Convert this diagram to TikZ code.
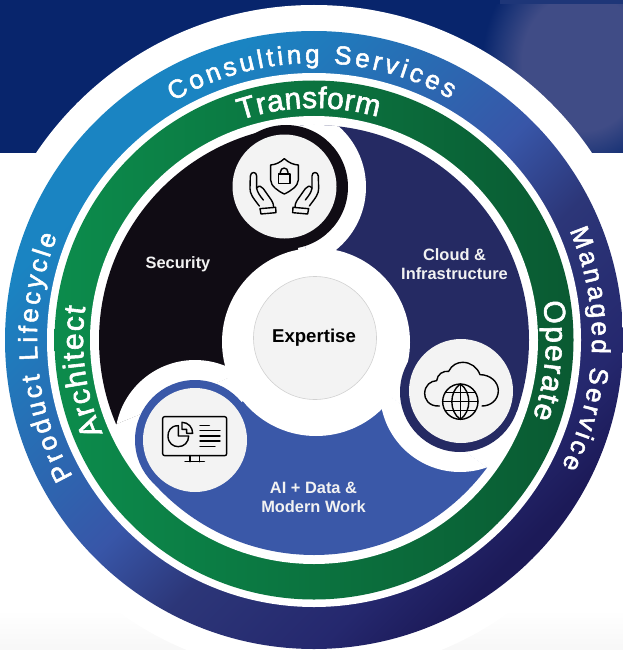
\documentclass[tikz,border=0pt]{standalone}
\usepackage{fontspec}
\setmainfont{Liberation Sans}
\newfontfamily\ringfont[FakeBold=2]{Liberation Sans}
\usetikzlibrary{decorations.text}
\definecolor{bandc}{HTML}{08256C}
\definecolor{patchL}{HTML}{404C86}
\definecolor{patchR}{HTML}{1E3678}
\definecolor{blA}{HTML}{1A84C2}
\definecolor{blAb}{HTML}{2A6AB2}
\definecolor{blB}{HTML}{3856A8}
\definecolor{blBb}{HTML}{2C3678}
\definecolor{blBc}{HTML}{25286E}
\definecolor{blC}{HTML}{1C1A58}
\definecolor{grA}{HTML}{0C8C4C}
\definecolor{grB}{HTML}{0A5A32}
\definecolor{secc}{HTML}{100C14}
\definecolor{navc}{HTML}{252A63}
\definecolor{aic}{HTML}{3A58A8}
\definecolor{greyc}{HTML}{F3F3F3}
\definecolor{labc}{HTML}{F2F2F2}
\pgfdeclareverticalshading{ringblue}{100bp}{color(0bp)=(blC); color(26bp)=(blC); color(32bp)=(blBc); color(42.7bp)=(blBb); color(50.3bp)=(blB); color(59bp)=(blAb); color(71bp)=(blA); color(100bp)=(blA)}
\pgfdeclareradialshading{patchglow}{\pgfpoint{0bp}{0bp}}{color(0bp)=(patchL); color(15bp)=(patchL); color(21bp)=(patchR); color(25bp)=(bandc); color(50bp)=(bandc)}
\tikzset{
  x=1pt,y=1pt,
  lab/.style={text=labc,font=\bfseries\fontsize{16.4}{19}\selectfont,align=center,inner sep=0pt},
  icon/.style={draw=black,line width=1.4pt,line cap=round,line join=round},
}
\newcommand{\ringtext}[5]{% size, radius, start, end, text
  \path[decorate,decoration={text along path,text align={fit to path},
    text={|\ringfont\fontsize{#1}{#1}\selectfont\color{white}|#5}}]
    (#3:#2pt) arc[start angle=#3,end angle=#4,radius=#2pt];}
\begin{document}
\begin{tikzpicture}
\useasboundingbox (0,0) rectangle (623,-650);
\fill[white] (0,0) rectangle (623,-650);
\shade[top color=white,bottom color=black!3] (0,-610) rectangle (623,-650);
% top band
\fill[bandc] (0,0) rectangle (623,-153);
\begin{scope}
\clip (0,-5) rectangle (623,-153);
\shade[shading=patchglow] (582,-62) ellipse[x radius=100pt,y radius=115pt];
\end{scope}
\fill[patchR] (500,0) rectangle (623,-4);
% rings
\fill[white] (314,-340) circle[radius=335pt];
\fill[white] (0,-153) rectangle (623,-610);
\shade[shading=ringblue,shading angle=45] (314,-340) circle[radius=309pt];
\fill[white] (314,-340) circle[radius=267pt];
\shade[left color=grA,right color=grB] (314,-340) circle[radius=259.5pt];
\fill[white] (314,-340) circle[radius=224pt];
% Security segment
\begin{scope}
\clip (314,-340) circle[radius=215pt];
\clip (316,-342)--(286,-187)--(286,-100)--(90,-100)--(90,-435)--cycle;
\fill[secc] (90,-100) rectangle (400,-500);
\fill[white] (195,-440) circle[radius=80pt];
\end{scope}
% Cloud segment
\begin{scope}
\clip (314,-340) circle[radius=215pt];
\clip (316,-342)--(300,-200)--(300,-100)--(560,-100)--(560,-413)--(520,-413)--(460,-392)--cycle;
\fill[navc] (280,-100) rectangle (560,-450);
\fill[white] (285,-187) circle[radius=81pt];
\end{scope}
% AI segment
\begin{scope}
\clip (314,-340) circle[radius=215pt];
\clip (316,-342)--(195,-440)--(120,-502)--(120,-620)--(530,-620)--(530,-500)--(515,-488)--cycle;
\fill[aic] (100,-330) rectangle (540,-620);
\fill[white] (460,-392) circle[radius=80pt];
\end{scope}
% cover the seams between the segments
\fill[white] (316,-342) circle[radius=94pt];
\draw[white,line width=1pt] (316,-342) -- (118,-424.2);
\draw[white,line width=1pt] (316,-342) -- (487,-467);
% icon discs
\fill[secc] (286,-187) circle[radius=62pt];
\fill[navc] (460,-392) circle[radius=60pt];
\fill[aic] (195,-440) circle[radius=60pt];
\node[circle,fill=greyc,minimum size=104pt,inner sep=0pt] (secdisc) at (284.5,-186.5) {};
\node[circle,fill=greyc,minimum size=104pt,inner sep=0pt] (clouddisc) at (461,-391) {};
\node[circle,fill=greyc,minimum size=104pt,inner sep=0pt] (aidisc) at (195,-440) {};
\node[circle,fill=greyc,draw=black!18,line width=0.6pt,minimum size=123pt,inner sep=0pt] (expert) at (315,-338) {};
\node[inner sep=0pt,font=\bfseries\fontsize{18.6}{20}\selectfont,text=black] (experttext) at (314,-338) {Expertise};
\node[lab] (sectext) at (178,-264) {Security};
\node[lab] (cloudtext) at (454.5,-264.5) {Cloud \&\\Infrastructure};
\node[lab] (aitext) at (313.5,-497) {AI + Data \&\\Modern Work};
% ring texts
\begin{scope}[shift={(314,-340)}]
\ringtext{26}{277}{120.5}{60.5}{Consulting Services}
\ringtext{30}{232}{108.5}{74}{Transform}
\ringtext{26}{277}{209.5}{158}{Product Lifecycle}
\ringtext{30}{231}{203.8}{171.8}{Architect}
\ringtext{26}{278}{23.2}{-27}{Managed Service}
\ringtext{30}{232}{9.5}{-19.5}{Operate}
\end{scope}
% security icon (zoom pixels of the crop at 100,120)
\begin{scope}[shift={(100,-120)},x=0.3333pt,y=-0.3333pt,icon]
\draw (553,116) .. controls (540,128) and (526,134) .. (512,135) -- (512,180) .. controls (512,198) and (535,214) .. (553,222) .. controls (571,214) and (595,198) .. (595,180) -- (595,135) .. controls (580,134) and (566,128) .. (553,116) -- cycle;
\draw (535,162) rectangle (570,190);
\draw (541,162) -- (541,157) .. controls (541,140) and (564,140) .. (564,157) -- (564,162);
% left hand
\draw (478,258) .. controls (458,232) and (450,222) .. (450,205) -- (451,168) .. controls (452,154) and (470,154) .. (470,168) -- (470,205) .. controls (473,218) and (478,225) .. (490,240);
\draw (470,204) .. controls (478,194) and (484,200) .. (490,206) -- (514,240) .. controls (520,250) and (521,256) .. (521,262);
\draw (480,266) -- (527,262) -- (528,278) -- (483,282) -- cycle;
% right hand
\draw (628,258) .. controls (648,232) and (656,222) .. (656,205) -- (655,168) .. controls (654,154) and (636,154) .. (636,168) -- (636,205) .. controls (633,218) and (628,225) .. (616,240);
\draw (636,204) .. controls (628,194) and (622,200) .. (616,206) -- (592,240) .. controls (586,250) and (585,256) .. (585,262);
\draw (626,266) -- (579,262) -- (578,278) -- (623,282) -- cycle;
\end{scope}
% cloud icon (crop at 340,300)
\begin{scope}[shift={(340,-300)},x=0.3333pt,y=-0.3333pt,icon]
\draw (298,318) .. controls (265,320) and (253,295) .. (254,280) .. controls (255,255) and (272,243) .. (290,242) .. controls (292,222) and (310,212) .. (326,214) .. controls (335,195) and (352,187) .. (368,187) .. controls (392,187) and (412,202) .. (420,224) .. controls (450,224) and (475,245) .. (475,272) .. controls (475,300) and (452,318) .. (426,318);
\draw (361,305) circle[radius=53];
\draw (361,252) .. controls (327,275) and (327,335) .. (361,358);
\draw (361,252) .. controls (395,275) and (395,335) .. (361,358);
\draw (361,252) -- (361,358);
\draw (308,305) -- (414,305);
\draw (318,278) -- (404,278);
\draw (318,332) -- (404,332);
\end{scope}
% chart icon (crop at 90,360)
\begin{scope}[shift={(90,-360)},x=0.3333pt,y=-0.3333pt,icon]
\draw[rounded corners=2pt] (218,170) rectangle (410,287);
\draw (300,287) -- (300,305);
\draw (328,287) -- (328,305);
\draw (285,305) -- (343,305);
\draw (265,197) .. controls (240,197) and (234,215) .. (234,228) .. controls (234,250) and (250,260) .. (265,260) .. controls (282,260) and (296,247) .. (296,228) -- (265,228) -- cycle;
\draw (276,187) .. controls (295,187) and (308,202) .. (308,220) -- (290,220) -- (290,208) -- (276,208) -- cycle;
\draw (330,196) -- (358,196);
\draw (330,212) -- (390,212);
\draw (330,228) -- (390,228);
\draw (330,243) -- (390,243);
\draw (330,259) -- (375,259);
\end{scope}
\end{tikzpicture}
\end{document}
